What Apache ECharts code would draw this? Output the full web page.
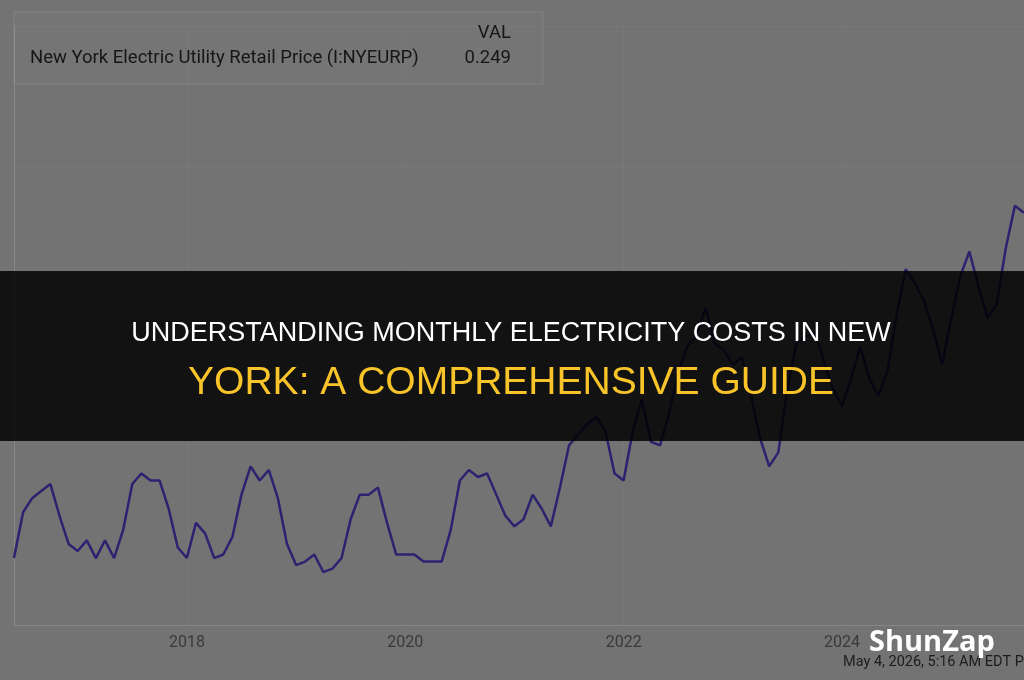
<!DOCTYPE html>
<html>
<head>
<meta charset="utf-8">
<title>New York Electric Utility Retail Price</title>
<script src="https://cdn.jsdelivr.net/npm/echarts@6/dist/echarts.min.js"></script>
<style>
  html, body { margin: 0; padding: 0; background: #737373; }
  #chart { width: 1024px; height: 680px; }
</style>
</head>
<body>
<div id="chart"></div>
<script>
// monthly retail price, USD/kWh (Jun 2016 .. Sep 2025)
const price2016 = [0.149, 0.162, 0.166, 0.168, 0.170, 0.161, 0.153]
const price2017 = [0.151, 0.154, 0.149, 0.154, 0.149, 0.157, 0.170, 0.173, 0.171, 0.171, 0.163, 0.152]
const price2018 = [0.149, 0.159, 0.156, 0.149, 0.150, 0.155, 0.167, 0.175, 0.171, 0.174, 0.166, 0.153]
const price2019 = [0.147, 0.148, 0.150, 0.145, 0.146, 0.149, 0.160, 0.167, 0.167, 0.169, 0.159, 0.150]
const price2020 = [0.150, 0.150, 0.148, 0.148, 0.148, 0.157, 0.171, 0.174, 0.172, 0.173, 0.167, 0.161]
const price2021 = [0.158, 0.160, 0.167, 0.163, 0.158, 0.169, 0.181, 0.184, 0.187, 0.189, 0.185, 0.173]
const price2022 = [0.171, 0.185, 0.194, 0.182, 0.181, 0.190, 0.202, 0.209, 0.212, 0.220, 0.210, 0.208]
const price2023 = [0.204, 0.206, 0.195, 0.183, 0.175, 0.179, 0.197, 0.210, 0.212, 0.213, 0.205, 0.197]
const price2024 = [0.192, 0.200, 0.209, 0.200, 0.195, 0.202, 0.218, 0.231, 0.227, 0.222, 0.214, 0.204]
const price2025 = [0.217, 0.229, 0.236, 0.226, 0.217, 0.221, 0.237, 0.249, 0.247]

const tickYears = ['2018', '2020', '2022', '2024']
const seriesName = 'New York Electric Utility Retail Price (I:NYEURP)'
const lastValue = '0.249'

const values = [].concat(price2016, price2017, price2018, price2019, price2020,
  price2021, price2022, price2023, price2024, price2025)

// month categories, starting at 2016-06
const months = []
let yr = 2016
let mo = 6
while (months.length < values.length) {
  months.push(yr + '-' + String(mo).padStart(2, '0'))
  mo++
  if (mo > 12) { mo = 1; yr++ }
}

const isTick = (i, v) => v.slice(5) === '01' && tickYears.includes(v.slice(0, 4))
const headFont = "'Liberation Sans', Arial, sans-serif"

const option = {
  backgroundColor: '#737373',
  animation: false,
  grid: { left: 14, right: -4.5, top: 26, bottom: 55 },
  xAxis: {
    type: 'category',
    data: months,
    boundaryGap: false,
    axisLine: { lineStyle: { color: '#878787', width: 1 } },
    axisTick: { show: false },
    axisLabel: {
      interval: isTick,
      formatter: v => v.slice(0, 4),
      color: '#3a3a3a',
      fontSize: 16,
      fontFamily: 'Roboto',
      margin: 10
    },
    splitLine: { show: true, interval: isTick, lineStyle: { color: 'rgba(255,255,255,0.03)' } }
  },
  yAxis: {
    type: 'value',
    min: 0.13,
    max: 0.30,
    interval: 0.065,
    axisLine: { show: true, lineStyle: { color: '#878787' } },
    axisTick: { show: false },
    axisLabel: { show: false },
    splitLine: { lineStyle: { color: 'rgba(255,255,255,0.03)' } }
  },
  series: [{
    name: seriesName,
    type: 'line',
    data: values,
    showSymbol: false,
    lineStyle: { color: '#2c2370', width: 2.5 },
    z: 2
  }],
  graphic: [
    // legend box
    {
      type: 'rect', z: 10,
      shape: { x: 14, y: 12, width: 529, height: 72 },
      style: { fill: 'rgba(255,255,255,0.015)', stroke: 'rgba(255,255,255,0.1)', lineWidth: 1 }
    },
    {
      type: 'text', z: 11,
      style: { text: 'VAL', x: 511, y: 33, align: 'right', verticalAlign: 'middle',
        fill: '#161616', fontSize: 18.5, fontFamily: 'Roboto' }
    },
    {
      type: 'text', z: 11,
      style: { text: seriesName, x: 30, y: 58, align: 'left', verticalAlign: 'middle',
        fill: '#161616', fontSize: 18.5, fontFamily: 'Roboto' }
    },
    {
      type: 'text', z: 11,
      style: { text: lastValue, x: 511, y: 58, align: 'right', verticalAlign: 'middle',
        fill: '#161616', fontSize: 18.5, fontFamily: 'Roboto' }
    },
    // dark banner with the headline
    {
      type: 'rect', z: 100,
      shape: { x: 0, y: 271, width: 1024, height: 170 },
      style: { fill: 'rgba(0,0,0,0.84)' }
    },
    {
      type: 'text', z: 101,
      style: { text: 'UNDERSTANDING MONTHLY ELECTRICITY COSTS IN NEW', x: 511, y: 334,
        align: 'center', verticalAlign: 'middle', fill: '#ffffff', fontSize: 27, fontFamily: headFont }
    },
    {
      type: 'text', z: 101,
      style: { text: 'YORK: A COMPREHENSIVE GUIDE', x: 511, y: 383,
        align: 'center', verticalAlign: 'middle', fill: '#f8c42a', fontSize: 39, fontFamily: headFont }
    },
    // footer
    {
      type: 'text', z: 20,
      style: { text: 'May 4, 2026, 5:16 AM EDT Powered by YCharts', x: 843, y: 662,
        align: 'left', verticalAlign: 'middle', fill: '#1c1c1c', fontSize: 14.5, fontFamily: 'Roboto' }
    },
    {
      type: 'text', z: 21,
      style: { text: 'ShunZap', x: 869, y: 643, align: 'left', verticalAlign: 'middle',
        fill: '#ffffff', fontSize: 29, fontWeight: 'bold', fontFamily: "'Open Sans', sans-serif" }
    }
  ]
}

const myChart = echarts.init(document.getElementById('chart'))
myChart.setOption(option)
</script>
</body>
</html>
